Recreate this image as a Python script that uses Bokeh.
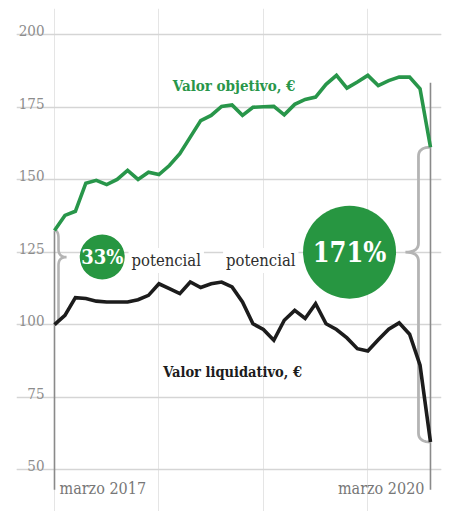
import numpy as np
from bokeh.plotting import figure
from bokeh.models import Range1d, Grid, FixedTicker, Label
from bokeh.core.properties import value
from bokeh.embed import file_html
from bokeh.resources import INLINE

# ---- data (monthly, March 2017 .. March 2020) ----
months = list(range(37))
target = [132.5, 137.7, 139.1, 148.8, 149.8, 148.3, 150.1, 153.2, 150.1, 152.6,
          151.8, 154.9, 159.0, 164.7, 170.4, 172.2, 175.3, 175.8, 172.2, 175.0,
          175.2, 175.3, 172.4, 176.0, 177.7, 178.5, 182.9, 186.0, 181.6, 183.7,
          186.0, 182.5, 184.2, 185.4, 185.4, 181.4, 161.2]
nav = [100.0, 103.2, 109.3, 109.0, 108.1, 107.8, 107.8, 107.8, 108.6, 110.1,
       114.1, 112.4, 110.7, 114.7, 112.8, 114.1, 114.7, 113.0, 107.8, 100.3,
       98.3, 94.6, 101.5, 104.9, 102.1, 107.2, 100.3, 98.3, 95.4, 91.7,
       90.9, 94.8, 98.4, 100.6, 96.7, 86.0, 59.5]
yticks = [50, 75, 100, 125, 150, 175, 200]
ytick_labels = ["50", "75", "100", "125", "150", "175", "200"]
xlabels = ["marzo 2017", "marzo 2020"]
badge_text = ["33%", "171%"]
badge_x = [4.57, 28.25]
badge_y = [123.3, 125.0]
badge_size = [45, 93]
badge_font = ["20px", "27px"]
brace_tip = [123.3, 125.0]

GREEN = "#28964a"
GREEN_DOT = "#279641"
BLACK = "#1c1c1c"
GRID = "#d5d5d5"
TICK = "#8c8c8c"
BRACE = "#b4b4b4"
SERIF = "DejaVu Serif Condensed"

# pixel scale helpers (px per data unit)
PX_X = 10.444
PX_Y = 2.898

p = figure(width=451, height=511,
           x_range=Range1d(-3.638, 37.055), y_range=Range1d(35.51, 209.08),
           output_backend="svg", toolbar_location=None,
           x_axis_location=None, y_axis_location=None,
           min_border_left=16, min_border_right=10,
           min_border_top=8, min_border_bottom=0)
p.outline_line_color = None
p.background_fill_color = "white"
p.border_fill_color = "white"
p.add_layout(Grid(dimension=1, ticker=FixedTicker(ticks=yticks),
                  grid_line_color=GRID, grid_line_width=1.6))

# tick labels drawn above the gridlines
p.text(x=[months[0]] * len(yticks), y=yticks, text=ytick_labels,
       x_offset=-10, y_offset=-4, text_align="right", text_baseline="alphabetic",
       text_font=value(SERIF), text_font_size="15px", text_color=TICK)

# vertical marker lines at start / end
floor = 43.0
p.segment(x0=[months[0], months[-1]], y0=[target[0], 183.5],
          x1=[months[0], months[-1]], y1=[floor, floor],
          line_color="#8a8a8a", line_width=1.6)

p.text(x=[months[0]], y=[yticks[0]], text=[xlabels[0]], x_offset=5, y_offset=19,
       text_align="left", text_baseline="alphabetic",
       text_font=value(SERIF), text_font_size="16px", text_color="#777777")
p.text(x=[months[-1]], y=[yticks[0]], text=[xlabels[1]], x_offset=-6, y_offset=19,
       text_align="right", text_baseline="alphabetic",
       text_font=value(SERIF), text_font_size="16px", text_color="#777777")


def quad(p0, c, p1, n=10):
    t = np.linspace(0, 1, n)
    xs = (1 - t) ** 2 * p0[0] + 2 * (1 - t) * t * c[0] + t ** 2 * p1[0]
    ys = (1 - t) ** 2 * p0[1] + 2 * (1 - t) * t * c[1] + t ** 2 * p1[1]
    return list(zip(xs, ys))


def brace(xa, xs, xt, ytop, ytip, ybot, ry):
    pts = []
    pts += quad((xa, ytop), (xs, ytop), (xs, ytop - ry))
    pts += quad((xs, ytip + ry), (xs, ytip), (xt, ytip))
    pts += quad((xt, ytip), (xs, ytip), (xs, ytip - ry))
    pts += quad((xs, ybot + ry), (xs, ybot), (xa, ybot))
    return [a for a, b in pts], [b for a, b in pts]


bx1, by1 = brace(months[0], months[0] + 4 / PX_X, months[0] + 12 / PX_X,
                 target[0], brace_tip[0], nav[0], 8 / PX_Y)
bx2, by2 = brace(months[-1], months[-1] - 12 / PX_X, months[-1] - 25 / PX_X,
                 target[-1], brace_tip[1], nav[-1], 9 / PX_Y)
p.line(bx1, by1, line_color=BRACE, line_width=2.6)
p.line(bx2, by2, line_color=BRACE, line_width=2.8)

# series
p.line(months, target, line_color=GREEN, line_width=3.6, line_join="miter")
p.line(months, nav, line_color=BLACK, line_width=3.6, line_join="miter")

# series labels
p.text(x=[17.2], y=[182.2], text=["Valor objetivo, €"], text_align="center",
       text_baseline="alphabetic", text_font=value(SERIF), text_font_style="bold",
       text_font_size="15px", text_color=GREEN)
p.text(x=[17.05], y=[83.8], text=["Valor liquidativo, €"], text_align="center",
       text_baseline="alphabetic", text_font=value(SERIF), text_font_style="bold",
       text_font_size="14.5px", text_color=BLACK)

# "potencial" labels (white box hides gridline)
for xx, yy, al in [(7.09, 122.1, "left"), (23.36, 122.1, "right")]:
    p.add_layout(Label(x=xx, y=yy, text="potencial", text_align=al,
                       text_baseline="alphabetic", text_font=SERIF,
                       text_font_size="16.5px", text_color="#2e2e2e",
                       background_fill_color="white", padding=3))

# badges
p.scatter(x=badge_x, y=badge_y, size=badge_size, color=GREEN_DOT, line_color=None)
for bxv, byv, bt, bf in zip(badge_x, badge_y, badge_text, badge_font):
    p.text(x=[bxv], y=[byv], text=[bt], text_align="center", text_baseline="middle",
           text_font=value(SERIF), text_font_style="bold", text_font_size=bf,
           text_color="white")

open("out.html", "w").write(file_html(p, INLINE))
